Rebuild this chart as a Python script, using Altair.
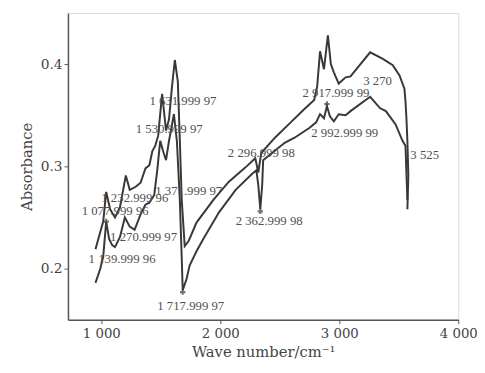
import altair as alt
import pandas as pd

# Upper spectrum (wavenumber cm^-1, absorbance)
wn_a = [951, 975, 1016, 1041, 1074, 1115, 1157, 1206, 1239, 1289, 1330, 1371, 1404, 1429,
        1453, 1478, 1511, 1544, 1569, 1594, 1618, 1643, 1660, 1676, 1701, 1734, 1800, 1940,
        2072, 2212, 2294, 2319, 2344, 2459, 2583, 2707, 2789, 2814, 2838, 2871, 2904, 2929,
        2954, 2995, 3053, 3094, 3259, 3366, 3449, 3506, 3547, 3556, 3564, 3572, 3580, 3572]
abs_a = [0.219, 0.229, 0.246, 0.275, 0.258, 0.250, 0.260, 0.291, 0.277, 0.280, 0.284, 0.298,
         0.301, 0.315, 0.320, 0.330, 0.371, 0.335, 0.346, 0.378, 0.404, 0.383, 0.325, 0.267,
         0.222, 0.227, 0.245, 0.267, 0.285, 0.299, 0.308, 0.294, 0.313, 0.328, 0.342, 0.356,
         0.365, 0.378, 0.4125, 0.395, 0.428, 0.400, 0.392, 0.381, 0.387, 0.388, 0.4115, 0.405,
         0.399, 0.389, 0.376, 0.3635, 0.347, 0.325, 0.291, 0.258]

# Lower spectrum
wn_b = [951, 992, 1016, 1041, 1066, 1091, 1115, 1157, 1198, 1239, 1280, 1330, 1371, 1404,
        1445, 1470, 1495, 1519, 1544, 1569, 1610, 1635, 1660, 1676, 1684, 1717, 1742, 1800,
        1857, 1989, 2129, 2270, 2303, 2319, 2336, 2352, 2360, 2541, 2624, 2748, 2805, 2838,
        2871, 2896, 2921, 2954, 2995, 3053, 3094, 3259, 3341, 3391, 3473, 3531, 3556, 3572]
abs_b = [0.186, 0.200, 0.2115, 0.246, 0.229, 0.223, 0.221, 0.231, 0.250, 0.241, 0.238, 0.253,
         0.2625, 0.2645, 0.272, 0.296, 0.325, 0.315, 0.306, 0.325, 0.351, 0.325, 0.267, 0.210,
         0.179, 0.190, 0.203, 0.217, 0.229, 0.255, 0.277, 0.293, 0.296, 0.282, 0.258, 0.282,
         0.306, 0.323, 0.328, 0.3375, 0.343, 0.351, 0.347, 0.359, 0.349, 0.344, 0.351, 0.350,
         0.354, 0.368, 0.357, 0.354, 0.341, 0.325, 0.320, 0.267]

# Peak annotations (left edge of the text)
peak_labels = ["1 631.999 97", "1 530.999 97", "1 371.999 97", "1 232.999 96", "1 077.999 96",
               "1 270.999 97", "1 139.999 96", "1 717.999 97", "2 296.999 98", "2 362.999 98",
               "2 917.999 99", "2 992.999 99", "3 270", "3 525"]
label_wn = [1404, 1289, 1453, 1000, 835, 1074, 893, 1470, 2063, 2129, 2690, 2764, 3201, 3597]
label_abs = [0.3635, 0.3365, 0.276, 0.2692, 0.2558, 0.2308, 0.2096, 0.1635, 0.3125, 0.2462,
             0.3712, 0.3327, 0.3837, 0.3106]

# Peak-picking cross markers
marker_wn = [1041, 1684, 2336, 2896]
marker_abs = [0.246, 0.177, 0.256, 0.361]

x_ticks = [1000, 2000, 3000, 4000]
y_ticks = [0.2, 0.3, 0.4]

rows = []
for i, (w, a) in enumerate(zip(wn_a, abs_a)):
    rows.append({"wn": w, "ab": a, "series": "A", "idx": i})
for i, (w, a) in enumerate(zip(wn_b, abs_b)):
    rows.append({"wn": w, "ab": a, "series": "B", "idx": i})
df = pd.DataFrame(rows)
df_lab = pd.DataFrame({"wn": label_wn, "ab": label_abs, "text": peak_labels})
df_mk = pd.DataFrame({"wn": marker_wn, "ab": marker_abs})

axis_col = "#555555"
xscale = alt.Scale(domain=[720, 4000], nice=False, zero=False)
yscale = alt.Scale(domain=[0.15, 0.45], nice=False, zero=False)

xaxis = alt.Axis(title="Wave number/cm⁻¹", values=x_ticks, grid=False, tickSize=4,
                 labelPadding=3, labelExpr="replace(format(datum.value, ','), ',', ' ')",
                 labelFont="DejaVu Serif", labelFontSize=13.5, titleFont="DejaVu Serif",
                 titleFontSize=15, titleFontWeight="normal", labelColor="#444444",
                 titleColor="#444444", domainColor=axis_col, tickColor=axis_col,
                 domainWidth=1.5, labelFlush=False, titlePadding=5)
yaxis = alt.Axis(title="Absorbance", values=y_ticks, format=".1f", grid=False, tickSize=4,
                 labelPadding=2, labelFont="DejaVu Serif", labelFontSize=14,
                 titleFont="DejaVu Serif", titleFontSize=15, titleFontWeight="normal",
                 labelColor="#444444", titleColor="#444444", domainColor=axis_col,
                 tickColor=axis_col, domainWidth=1.5, titlePadding=6)

lines = alt.Chart(df).mark_line(strokeWidth=2, color="#383838").encode(
    x=alt.X("wn:Q", scale=xscale, axis=xaxis),
    y=alt.Y("ab:Q", scale=yscale, axis=yaxis),
    detail="series:N",
    order="idx:Q",
)

texts = alt.Chart(df_lab).mark_text(align="left", baseline="middle", font="Liberation Serif",
                                    fontSize=13, color="#505050").encode(
    x=alt.X("wn:Q", scale=xscale), y=alt.Y("ab:Q", scale=yscale), text="text:N")

marks = alt.Chart(df_mk).mark_point(shape="cross", size=30, filled=True, color="#3b3b3b").encode(
    x=alt.X("wn:Q", scale=xscale), y=alt.Y("ab:Q", scale=yscale))

chart = alt.layer(lines, marks, texts).properties(
    width=397, height=312,
    autosize=alt.AutoSizeParams(type="none"),
    padding={"left": 61, "top": 2, "right": 19, "bottom": 43},
).configure_view(strokeWidth=0).configure(background="white")

chart.save("out.html", embed_options={"renderer": "svg", "actions": False})
